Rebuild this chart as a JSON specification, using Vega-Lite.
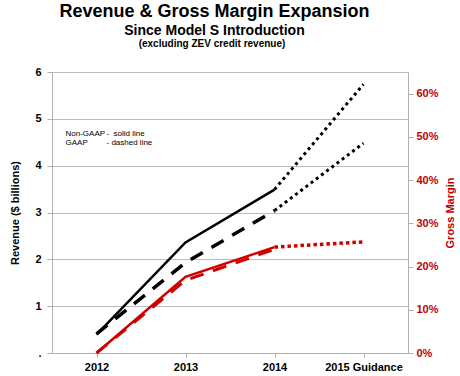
{
  "$schema": "https://vega.github.io/schema/vega-lite/v6.json",
  "padding": {"left": 9, "right": 0, "top": 3, "bottom": 4},
  "config": {
    "font": "Liberation Sans",
    "view": {"stroke": null},
    "concat": {"spacing": 0}
  },
  "datasets": {
    "lines": [
      {"year": "2012", "series": "rev_ng", "value": 0.39},
      {"year": "2013", "series": "rev_ng", "value": 2.36},
      {"year": "2014", "series": "rev_ng", "value": 3.49},
      {"year": "2012", "series": "rev_g", "value": 0.41},
      {"year": "2013", "series": "rev_g", "value": 1.93},
      {"year": "2014", "series": "rev_g", "value": 3.04},
      {"year": "2014", "series": "rev_ng_guid", "value": 3.49},
      {"year": "2015 Guidance", "series": "rev_ng_guid", "value": 5.74},
      {"year": "2014", "series": "rev_g_guid", "value": 3.04},
      {"year": "2015 Guidance", "series": "rev_g_guid", "value": 4.48},
      {"year": "2012", "series": "gm_ng", "value": 0.0},
      {"year": "2013", "series": "gm_ng", "value": 0.176},
      {"year": "2014", "series": "gm_ng", "value": 0.245},
      {"year": "2012", "series": "gm_g", "value": 0.0},
      {"year": "2013", "series": "gm_g", "value": 0.168},
      {"year": "2014", "series": "gm_g", "value": 0.24},
      {"year": "2014", "series": "gm_guid", "value": 0.245},
      {"year": "2015 Guidance", "series": "gm_guid", "value": 0.257}
    ],
    "notes": [
      {"year": "2012", "value": 4.63, "label": "Non-GAAP", "desc": "-\u00a0\u00a0solid line"},
      {"year": "2012", "value": 4.44, "label": "GAAP", "desc": "\u00a0- dashed line"}
    ]
  },
  "title": {
    "text": "Revenue & Gross Margin Expansion",
    "subtitle": "Since Model S Introduction",
    "fontSize": 18,
    "fontWeight": "bold",
    "color": "#000000",
    "subtitleFontSize": 14,
    "subtitleFontWeight": "bold",
    "subtitleColor": "#000000",
    "subtitlePadding": 3,
    "offset": 1,
    "dx": -18,
    "anchor": "middle"
  },
  "vconcat": [
    {
      "title": {
        "text": "(excluding ZEV credit revenue)",
        "fontSize": 10,
        "fontWeight": "bold",
        "color": "#000000",
        "offset": 17,
        "dx": -18,
        "anchor": "middle"
      },
      "width": 356,
      "height": 281,
      "layer": [
        {
          "encoding": {
            "x": {
              "field": "year",
              "type": "ordinal",
              "scale": {"type": "point", "padding": 0.5, "domain": ["2012", "2013", "2014", "2015 Guidance"]},
              "axis": {
                "title": null,
                "labelAngle": 0,
                "labelFontSize": 11,
                "labelFontWeight": "bold",
                "labelColor": "#000000",
                "labelPadding": 4,
                "domainColor": "#b0b0b0",
                "tickColor": "#b0b0b0",
                "tickSize": 4,
                "grid": false
              }
            },
            "y": {
              "field": "value",
              "type": "quantitative",
              "scale": {"domain": [0, 6], "nice": false},
              "axis": {
                "title": "Revenue ($ billions)",
                "titleFontSize": 11,
                "titleFontWeight": "bold",
                "titleColor": "#000000",
                "titlePadding": 14,
                "values": [0, 1, 2, 3, 4, 5, 6],
                "labelExpr": "datum.value == 0 ? '.' : datum.label",
                "labelFontSize": 11,
                "labelFontWeight": "bold",
                "labelColor": "#000000",
                "labelPadding": 6,
                "tickSize": 5,
                "tickColor": "#b0b0b0",
                "domainColor": "#b0b0b0",
                "grid": true,
                "gridColor": "#bdbdbd",
                "gridWidth": 1
              }
            }
          },
          "layer": [
            {
              "data": {"name": "lines"},
              "transform": [{"filter": "datum.series == 'rev_ng'"}],
              "mark": {"type": "line", "color": "#000000", "strokeWidth": 2.5}
            },
            {
              "data": {"name": "lines"},
              "transform": [{"filter": "datum.series == 'rev_g'"}],
              "mark": {"type": "line", "color": "#000000", "strokeWidth": 3.5, "strokeDash": [14, 10]}
            },
            {
              "data": {"name": "lines"},
              "transform": [{"filter": "datum.series == 'rev_ng_guid'"}],
              "mark": {"type": "line", "color": "#000000", "strokeWidth": 3, "strokeDash": [3, 3.5]}
            },
            {
              "data": {"name": "lines"},
              "transform": [{"filter": "datum.series == 'rev_g_guid'"}],
              "mark": {"type": "line", "color": "#000000", "strokeWidth": 3, "strokeDash": [3, 3.5]}
            },
            {
              "data": {"name": "notes"},
              "mark": {"type": "text", "align": "left", "baseline": "alphabetic", "dx": -31, "fontSize": 8, "color": "#000000"},
              "encoding": {"text": {"field": "label"}}
            },
            {
              "data": {"name": "notes"},
              "mark": {"type": "text", "align": "left", "baseline": "alphabetic", "dx": 10, "fontSize": 8, "color": "#000000"},
              "encoding": {"text": {"field": "desc"}}
            }
          ]
        },
        {
          "data": {"name": "lines"},
          "encoding": {
            "x": {
              "field": "year",
              "type": "ordinal",
              "scale": {"type": "point", "padding": 0.5, "domain": ["2012", "2013", "2014", "2015 Guidance"]}
            },
            "y": {
              "field": "value",
              "type": "quantitative",
              "scale": {"domain": [0, 0.65], "nice": false},
              "axis": {
                "orient": "right",
                "title": "Gross Margin",
                "titleAngle": 270,
                "titleFontSize": 11,
                "titleFontWeight": "bold",
                "titleColor": "#c00000",
                "titlePadding": 17,
                "values": [0, 0.1, 0.2, 0.3, 0.4, 0.5, 0.6],
                "format": ".0%",
                "labelFontSize": 11,
                "labelFontWeight": "bold",
                "labelColor": "#c00000",
                "labelPadding": 3,
                "tickSize": 5,
                "tickColor": "#b0b0b0",
                "domainColor": "#b0b0b0",
                "grid": false
              }
            }
          },
          "layer": [
            {
              "transform": [{"filter": "datum.series == 'gm_g'"}],
              "mark": {"type": "line", "color": "#d00000", "strokeWidth": 3, "strokeDash": [14, 10]}
            },
            {
              "transform": [{"filter": "datum.series == 'gm_ng'"}],
              "mark": {"type": "line", "color": "#d00000", "strokeWidth": 2.5}
            },
            {
              "transform": [{"filter": "datum.series == 'gm_guid'"}],
              "mark": {"type": "line", "color": "#d00000", "strokeWidth": 3.5, "strokeDash": [3.5, 3]}
            }
          ]
        }
      ],
      "resolve": {"scale": {"y": "independent"}}
    }
  ]
}
